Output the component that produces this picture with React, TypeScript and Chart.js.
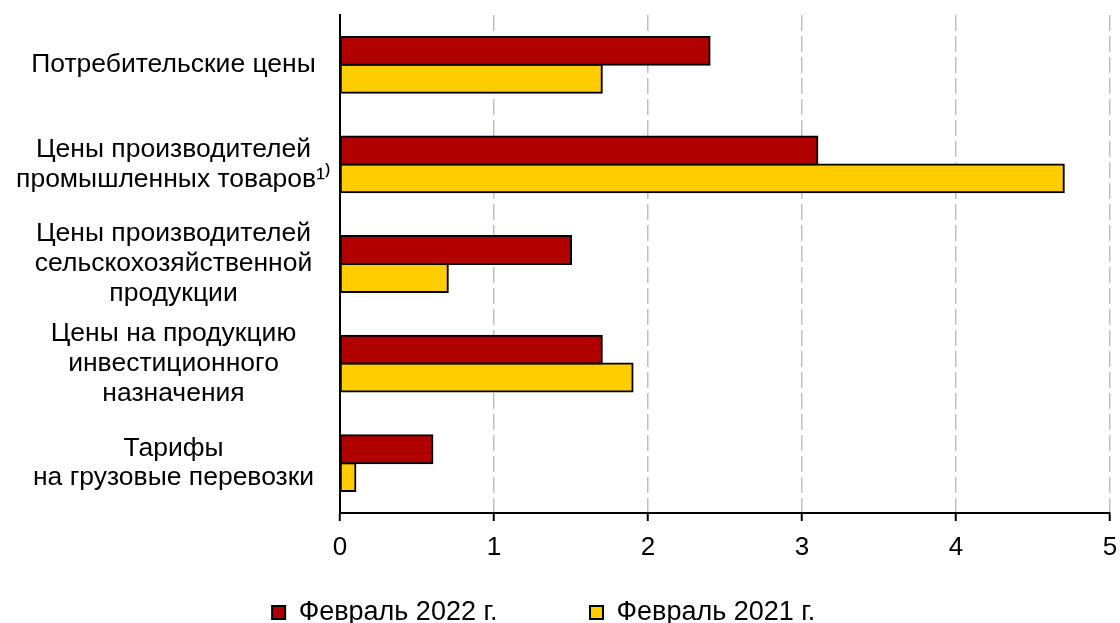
import React, { useEffect, useRef } from "react";
import { Chart, registerables } from "chart.js";

Chart.register(...registerables);

const FONT = '"Liberation Sans", Arial, sans-serif';

const categories: (string | string[])[] = [
  "Потребительские цены",
  ["Цены производителей", "промышленных товаров¹⁾"],
  ["Цены производителей", "сельскохозяйственной", "продукции"],
  ["Цены на продукцию", "инвестиционного", "назначения"],
  ["Тарифы", "на грузовые перевозки"],
];

const seriesNames = ["Февраль 2022 г.", "Февраль 2021 г."];
const values2022 = [2.4, 3.1, 1.5, 1.7, 0.6];
const values2021 = [1.7, 4.7, 0.7, 1.9, 0.1];

const xMin = 0;
const xMax = 5;
const xStep = 1;

const RED = "#b00000";
const YELLOW = "#ffcc00";

export default function App() {
  const canvasRef = useRef<HTMLCanvasElement | null>(null);

  useEffect(() => {
    const canvas = canvasRef.current;
    if (!canvas) return;
    const chart = new Chart(canvas, {
      type: "bar",
      data: {
        labels: categories,
        datasets: [
          {
            label: seriesNames[0],
            data: values2022,
            backgroundColor: RED,
            borderColor: "#000000",
            borderWidth: 2,
            borderSkipped: false,
            inflateAmount: 1,
            categoryPercentage: 0.56,
            barPercentage: 1,
          },
          {
            label: seriesNames[1],
            data: values2021,
            backgroundColor: YELLOW,
            borderColor: "#000000",
            borderWidth: 2,
            borderSkipped: false,
            inflateAmount: 1,
            categoryPercentage: 0.56,
            barPercentage: 1,
          },
        ],
      },
      options: {
        indexAxis: "y",
        responsive: false,
        animation: false,
        devicePixelRatio: 1,
        layout: { padding: { left: 0, right: 10, top: 15, bottom: -13 } },
        scales: {
          x: {
            min: xMin,
            max: xMax,
            afterFit: (s: any) => {
              s.height = 76;
              s.paddingLeft = 0;
              s.paddingRight = 0;
            },
            ticks: {
              stepSize: xStep,
              color: "#000000",
              padding: 11,
              font: { family: FONT, size: 26, lineHeight: 1.2 },
            },
            grid: {
              color: (ctx: any) =>
                ctx.tick && ctx.tick.value === 0 ? "rgba(0,0,0,0)" : "#c0c0c0",
              lineWidth: 1.5,
              tickColor: "#000000",
              tickLength: 8,
              tickWidth: 2,
              tickBorderDash: [],
            },
            border: { display: true, color: "#000000", width: 2, dash: [16, 5] },
          },
          y: {
            afterFit: (s: any) => {
              s.width = 340;
              s.paddingTop = 0;
              s.paddingBottom = 0;
            },
            ticks: {
              color: "#000000",
              crossAlign: "center",
              padding: 1,
              font: { family: FONT, size: 26.5, lineHeight: 1.13 },
            },
            grid: { display: false },
            border: { display: true, color: "#000000", width: 2 },
          },
        },
        plugins: {
          tooltip: { enabled: false },
          legend: {
            display: true,
            position: "bottom",
            labels: {
              color: "#000000",
              boxWidth: 13,
              boxHeight: 13,
              padding: 10,
              font: { family: FONT, size: 27 },
              generateLabels: (c: any) => {
                const items = Chart.defaults.plugins.legend.labels.generateLabels(c);
                return items.map((it: any, i: number) => ({
                  ...it,
                  lineWidth: 2,
                  text: i === 0 ? it.text + "\u00a0".repeat(11) : it.text + "\u00a0".repeat(3),
                }));
              },
            },
          },
        },
      } as any,
    });
    return () => chart.destroy();
  }, []);

  return (
    <div style={{ position: "absolute", left: 0, top: 0, width: 1120, height: 623, background: "#ffffff" }}>
      <canvas ref={canvasRef} width={1120} height={623} style={{ display: "block", width: 1120, height: 623 }} />
    </div>
  );
}
